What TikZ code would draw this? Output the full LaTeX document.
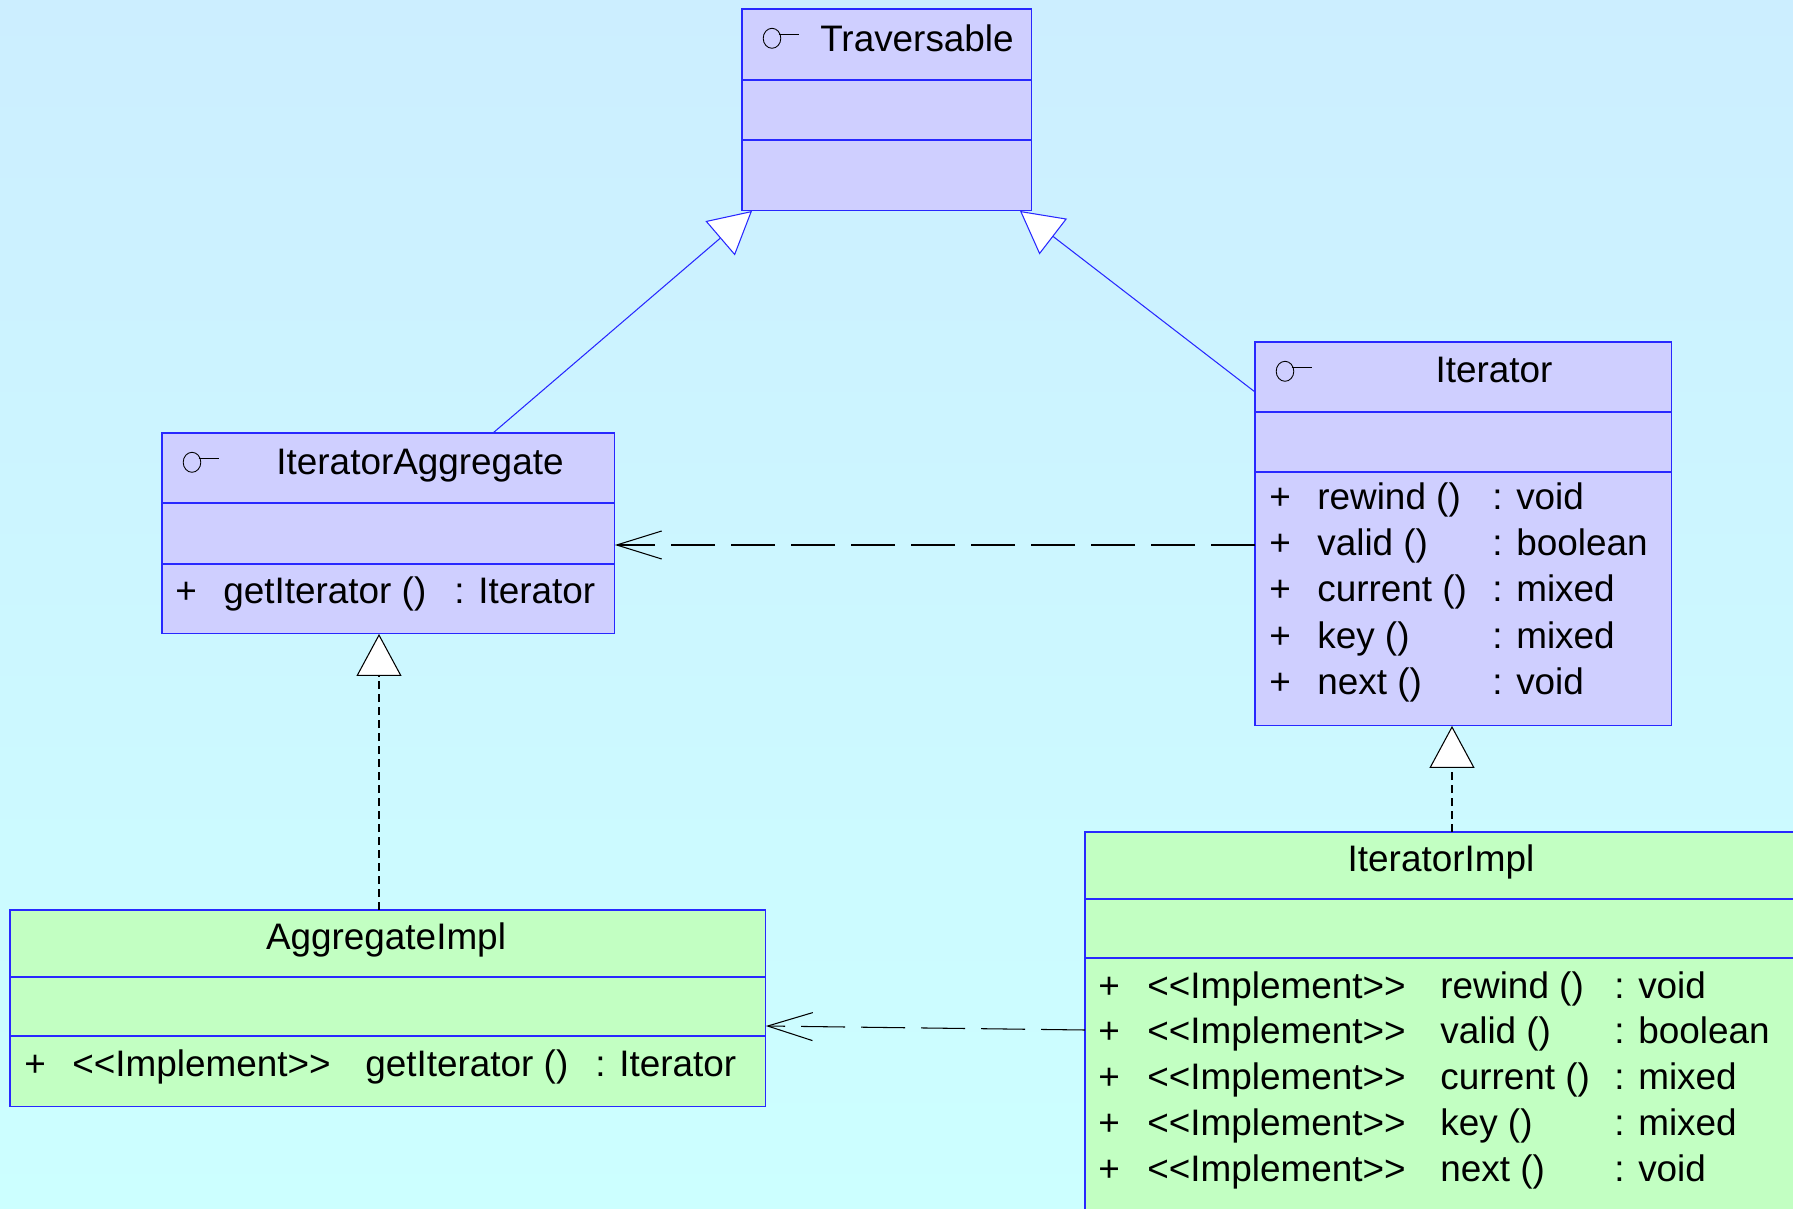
\documentclass[tikz,border=0pt]{standalone}
\usepackage{fontspec}
\setmainfont{Liberation Sans}
\usetikzlibrary{arrows.meta}

\definecolor{bgtop}{RGB}{204,238,255}
\definecolor{bgbot}{RGB}{204,255,255}
\definecolor{ifacefill}{RGB}{207,207,255}
\definecolor{implfill}{RGB}{194,255,194}
\definecolor{umlblue}{RGB}{40,40,255}

\newcommand{\implmark}{\mbox{<}\mbox{<}Implement\mbox{>}\mbox{>}}

\begin{document}
\begin{tikzpicture}[x=0.02cm, y=-0.02cm, font=\fontsize{21}{25}\selectfont,
	classbox/.style={draw=umlblue, line width=0.6pt, anchor=north west, inner sep=0, outer sep=0},
	divider/.style={draw=umlblue, line width=0.6pt},
	title/.style={anchor=base, inner sep=0},
	member/.style={anchor=base west, inner sep=0},
	icon/.style={draw=black, line width=0.5pt},
	inherit/.style={draw=umlblue, line width=0.6pt, -{Triangle[length=0.84cm, width=0.9cm, fill=white]}},
	realize/.style={draw=black, line width=0.6pt, dash pattern=on 0.16cm off 0.1cm, -{Triangle[length=0.84cm, width=0.9cm, fill=white]}},
	depend/.style={draw=black, line width=0.6pt, dash pattern=on 0.88cm off 0.32cm, -{Straight Barb[length=0.9cm, width=0.56cm]}}]

	% page
	\useasboundingbox (0,0) rectangle (1793,1209);
	\clip (0,0) rectangle (1793,1209);
	\shade [top color=bgtop, bottom color=bgbot] (0,0) rectangle (1793,1209);

	% interfaces
	\node [classbox, fill=ifacefill, minimum width=5.8cm, minimum height=4.04cm] (trav) at (742,9) {};
	\draw [divider] (742,80) -- (1032,80) (742,140) -- (1032,140);
	\node [title] (travname) at (917,52) {Traversable};

	\node [classbox, fill=ifacefill, minimum width=9.06cm, minimum height=4.02cm] (agg) at (162,433) {};
	\draw [divider] (162,503) -- (615,503) (162,564) -- (615,564);
	\node [title] (aggname) at (420,475) {IteratorAggregate};
	\node [member] (aggvis) at (175,603) {+};
	\node [member] (aggop) at (223,603) {getIterator ()};
	\node [member] (aggtype) at (454,603) {: Iterator};

	\node [classbox, fill=ifacefill, minimum width=8.34cm, minimum height=7.68cm] (iter) at (1255,342) {};
	\draw [divider] (1255,412) -- (1672,412) (1255,472) -- (1672,472);
	\node [title] (itername) at (1494,383) {Iterator};
	\foreach \op/\type [count=\i from 0] in {rewind ()/void, valid ()/boolean, current ()/mixed, key ()/mixed, next ()/void} {
		\node [member] (itervis\i) at (1269,510+46*\i) {+};
		\node [member] (iterop\i) at (1317,510+46*\i) {\op};
		\node [member] (itertype\i) at (1492,510+46*\i) {: \type};
	}

	% interface marks
	\foreach \bx/\by in {742/9, 162/433, 1255/342} {
		\draw [icon] (\bx+30,\by+29.3) ellipse [x radius=0.176cm, y radius=0.2cm];
		\draw [icon] (\bx+36.7,\by+25) -- (\bx+57,\by+25);
	}

	% classes
	\node [classbox, fill=implfill, minimum width=15.12cm, minimum height=3.94cm] (aggimpl) at (10,910) {};
	\draw [divider] (10,977) -- (766,977) (10,1036) -- (766,1036);
	\node [title] (aggimplname) at (386,949) {AggregateImpl};
	\node [member] (aggimplvis) at (24,1076) {+};
	\node [member] (aggimplmark) at (72,1076) {\implmark};
	\node [member] (aggimplop) at (365,1076) {getIterator ()};
	\node [member] (aggimpltype) at (595,1076) {: Iterator};

	\node [classbox, fill=implfill, minimum width=15cm, minimum height=8cm] (iterimpl) at (1085,832) {};
	\draw [divider] (1085,899) -- (1800,899) (1085,958) -- (1800,958);
	\node [title] (iterimplname) at (1441,871) {IteratorImpl};
	\foreach \op/\type [count=\i from 0] in {rewind ()/void, valid ()/boolean, current ()/mixed, key ()/mixed, next ()/void} {
		\node [member] (iterimplvis\i) at (1098,998+45.8*\i) {+};
		\node [member] (iterimplmark\i) at (1147,998+45.8*\i) {\implmark};
		\node [member] (iterimplop\i) at (1440,998+45.8*\i) {\op};
		\node [member] (iterimpltype\i) at (1614,998+45.8*\i) {: \type};
	}

	% relations
	\coordinate (g1) at (493,0);
	\coordinate (g1t) at (752,0);
	\coordinate (g2) at (0,392);
	\coordinate (g2t) at (1020,0);
	\coordinate (r1) at (379,0);
	\coordinate (r2) at (1452,0);
	\coordinate (d1) at (0,545);
	\coordinate (d2) at (0,1030);
	\coordinate (d2t) at (0,1026);

	\draw [inherit] (agg.north -| g1) -- (trav.south -| g1t);
	\draw [inherit] (iter.west |- g2) -- (trav.south -| g2t);
	\draw [realize] (aggimpl.north -| r1) -- (agg.south -| r1);
	\draw [realize] (iterimpl.north -| r2) -- (iter.south -| r2);
	\draw [depend] (iter.west |- d1) -- (agg.east |- d1);
	\draw [depend] (iterimpl.west |- d2) -- (aggimpl.east |- d2t);

\end{tikzpicture}
\end{document}
